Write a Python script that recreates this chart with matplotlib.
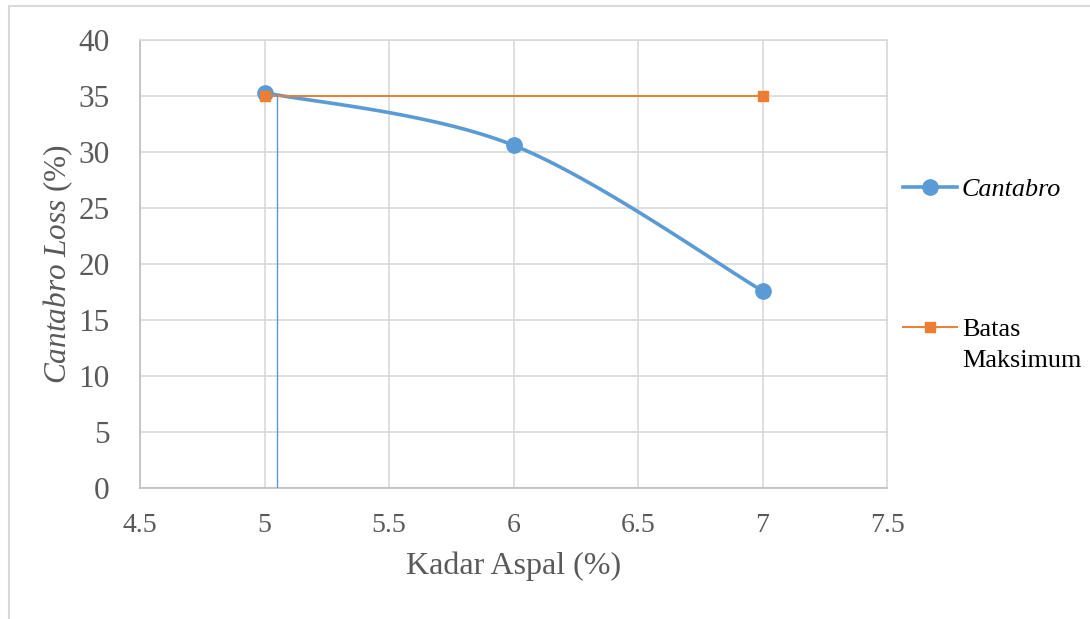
import numpy as np
import matplotlib
matplotlib.use("Agg")
import matplotlib.pyplot as plt
from matplotlib.lines import Line2D
from matplotlib.patches import Rectangle

plt.rcParams['font.family'] = ['Liberation Serif', 'DejaVu Serif']
plt.rcParams['mathtext.fontset'] = 'custom'
plt.rcParams['mathtext.rm'] = 'Liberation Serif'
plt.rcParams['mathtext.it'] = 'Liberation Serif:italic'

# data
kadar_aspal = [5, 6, 7]
cantabro_loss = [35.3, 30.6, 17.6]
batas_x = [5, 7]
batas_y = [35, 35]
garis_x = [5.05, 5.05]
garis_y = [0, 35]
xticks = [4.5, 5, 5.5, 6, 6.5, 7, 7.5]
yticks = [0, 5, 10, 15, 20, 25, 30, 35, 40]

BLUE = '#5B9BD5'
ORANGE = '#ED7D31'
GREY = '#595959'


def smooth(x, y, n=40):
  # excel-like smoothed line (catmull-rom as bezier)
  p = np.column_stack([x, y]).astype(float)
  ext = np.vstack([p[0], p, p[-1]])
  t = np.linspace(0, 1, n)[:, None]
  segs = []
  for i in range(len(p) - 1):
    p0, p1 = ext[i + 1], ext[i + 2]
    c1 = p0 + (ext[i + 2] - ext[i]) / 6
    c2 = p1 - (ext[i + 3] - ext[i + 1]) / 6
    segs.append((1 - t)**3 * p0 + 3 * (1 - t)**2 * t * c1 + 3 * (1 - t) * t**2 * c2 + t**3 * p1)
  s = np.vstack(segs)
  return s[:, 0], s[:, 1]


fig = plt.figure(figsize=(10.9, 6.19), dpi=100)
ax = fig.add_axes([140 / 1090, 1 - 488 / 619, 747 / 1090, 448 / 619])

sx, sy = smooth(kadar_aspal, cantabro_loss)
ax.plot(sx, sy, color=BLUE, lw=2.6, zorder=3, solid_capstyle='round')
ax.plot(kadar_aspal, cantabro_loss, 'o', color=BLUE, ms=11, zorder=4)
ax.plot(batas_x, batas_y, color=ORANGE, lw=1.4, marker='s', ms=7, zorder=5)
ax.plot(garis_x, garis_y, color=BLUE, lw=1.0, zorder=6)

ax.set_xlim(4.5, 7.5)
ax.set_ylim(0, 40)
ax.set_xticks(xticks)
ax.set_xticklabels([f'{v:g}' for v in xticks])
ax.set_yticks(yticks)
ax.grid(True, color='#D9D9D9', lw=1.2)
ax.set_axisbelow(True)
ax.tick_params(axis='both', length=0, colors=GREY)
ax.tick_params(axis='x', labelsize=20, pad=18)
ax.tick_params(axis='y', labelsize=22.5, pad=22)
for s in ax.spines.values():
  s.set_color('#D9D9D9')
  s.set_linewidth(1.2)
ax.spines['left'].set_color('#BFBFBF')
ax.spines['bottom'].set_color('#BFBFBF')

ax.set_xlabel('Kadar Aspal (%)', fontsize=23, color=GREY, labelpad=10)
ax.set_ylabel(r'$Cantabro\ Loss$ (%)', fontsize=22.5, color=GREY, labelpad=2)

h1 = Line2D([], [], color=BLUE, lw=2.6, marker='o', ms=11)
fig.legend([h1], ['Cantabro'], loc='center left', bbox_to_anchor=(0.8285, 1 - 189 / 619),
           frameon=False, prop={'style': 'italic', 'size': 18.8}, handlelength=2.05,
           handletextpad=0.2, borderpad=0, borderaxespad=0)
h2 = Line2D([], [], color=ORANGE, lw=1.4, marker='s', ms=7)
h3 = Line2D([], [], color='none')
fig.legend([h2, h3], ['Batas', 'Maksimum'], loc='center left', bbox_to_anchor=(0.8285, 1 - 345 / 619),
           frameon=False, prop={'size': 18.8}, handlelength=2.05, labelspacing=0.28,
           handletextpad=0.2, borderpad=0, borderaxespad=0)

fig.patches.append(Rectangle((8.5 / 1090, -0.1), 1.2, 1 - 6.5 / 619 + 0.1, transform=fig.transFigure,
                             fill=False, edgecolor='#D9D9D9', lw=1.5))

fig.savefig('out.png', dpi=100)
